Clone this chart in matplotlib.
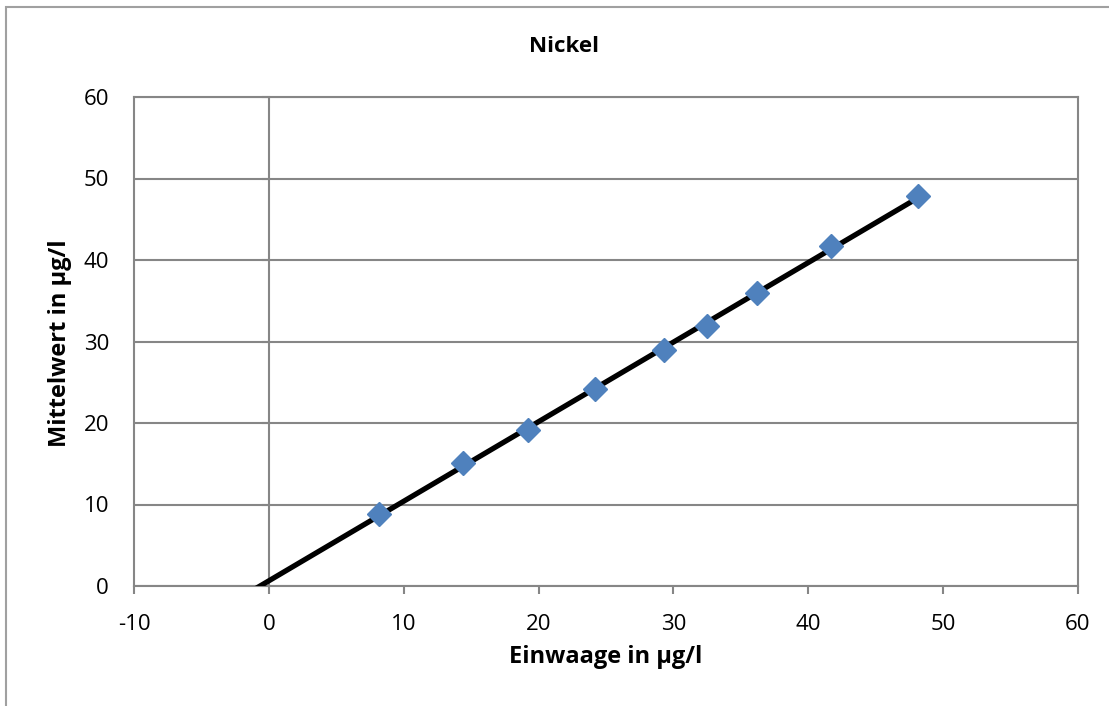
import numpy as np
import matplotlib.pyplot as plt
from matplotlib.patches import Rectangle

# Kalibrierdaten Nickel
einwaage = [8.2, 14.4, 19.2, 24.2, 29.3, 32.5, 36.2, 41.7, 48.1]
mittelwert = [8.8, 15.1, 19.1, 24.2, 29.0, 31.9, 35.9, 41.7, 47.8]

plt.rcParams['font.family'] = ['Open Sans', 'DejaVu Sans']
plt.rcParams['axes.unicode_minus'] = False
grid_col = '#868686'

fig = plt.figure(figsize=(11.09, 7.06), dpi=100)
ax = fig.add_axes([134 / 1109, 1 - 586 / 706, (1078 - 134) / 1109, (586 - 97) / 706])

# chart area border (left and top visible)
fig.add_artist(Rectangle((6 / 1109, -0.1), 1.2, 1 - 7 / 706 + 0.1, transform=fig.transFigure,
                         fill=False, edgecolor='#A0A0A0', linewidth=1.5))

# Trendlinie
slope, icpt = np.polyfit(einwaage, mittelwert, 1)
xs = np.array([-10, max(einwaage)])
ax.plot(xs, slope * xs + icpt, color='black', linewidth=3.8, zorder=3, clip_on=True)
ax.plot(einwaage, mittelwert, linestyle='none', marker='D', markersize=12,
        color='#4F81BD', zorder=4)

ax.set_xlim(-10, 60)
ax.set_ylim(0, 60)
ax.set_xticks(range(-10, 61, 10))
ax.set_yticks(range(0, 61, 10))
ax.yaxis.grid(True, color=grid_col, linewidth=1.5)
ax.axvline(0, color=grid_col, linewidth=1.5, zorder=1)
for s in ax.spines.values():
    s.set_color(grid_col)
    s.set_linewidth(1.5)

ax.tick_params(axis='x', direction='out', length=6, width=1.5, color=grid_col,
               labelsize=16, pad=14)
ax.tick_params(axis='y', length=0, labelsize=16, pad=18)
# Ticks am senkrechten Achsenkreuz bei x=0
for yv in range(0, 61, 10):
    ax.plot([-0.45, 0], [yv, yv], color=grid_col, linewidth=1.5, clip_on=False, zorder=1)

fig.text(564 / 1109, 1 - 46 / 706, 'Nickel', ha='center', va='center',
         fontsize=16, fontweight='bold')
fig.text(606 / 1109, 1 - 657 / 706, 'Einwaage in µg/l', ha='center', va='center',
         fontsize=17, fontweight='bold')
fig.text(60 / 1109, 1 - 343 / 706, 'Mittelwert in µg/l', ha='center', va='center',
         rotation=90, fontsize=17, fontweight='bold')

fig.savefig('out.png', dpi=100)
